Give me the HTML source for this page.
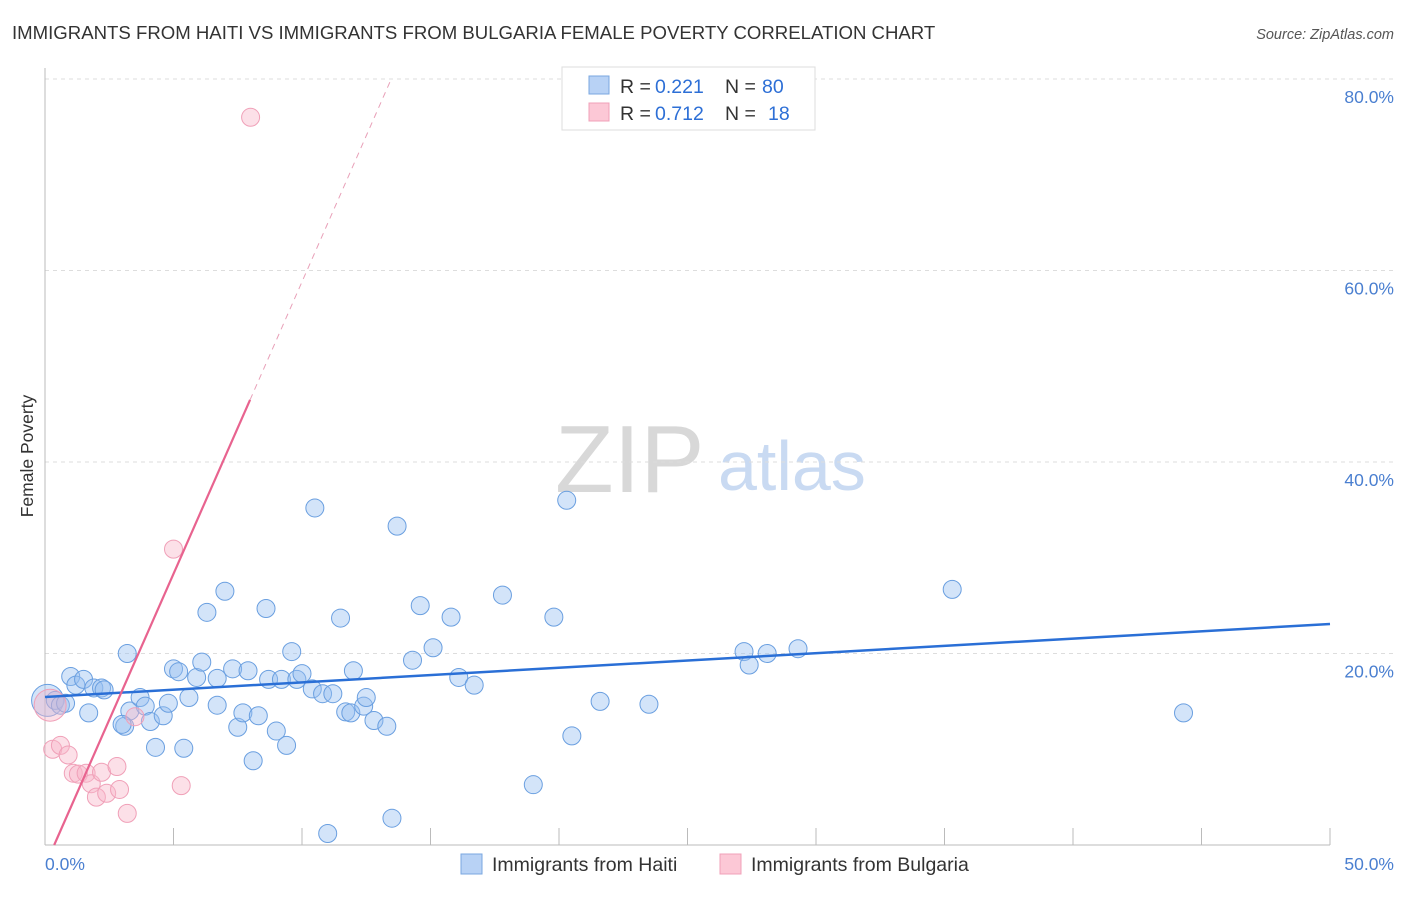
<!DOCTYPE html>
<html><head><meta charset="utf-8"><style>
body{margin:0;background:#fff;font-family:"Liberation Sans",sans-serif}
svg text{font-family:"Liberation Sans",sans-serif}
</style></head><body>
<svg width="1406" height="892">
<text x="12" y="39" font-size="18.6" fill="#333">IMMIGRANTS FROM HAITI VS IMMIGRANTS FROM BULGARIA FEMALE POVERTY CORRELATION CHART</text>
<text x="1394" y="39" font-size="14.5" fill="#555" font-style="italic" text-anchor="end">Source: ZipAtlas.com</text>
<text x="555" y="492" font-size="96" fill="#d8d8d8" font-family="Liberation Serif,serif">ZIP</text>
<text x="718" y="490" font-size="70" fill="#c9daf2">atlas</text>
<g id="grid"></g>
<line x1="45" y1="68" x2="45" y2="845" stroke="#bbb"/>
<line x1="45" y1="845" x2="1330" y2="845" stroke="#bbb"/>
<g id="ticks"></g>
<text transform="translate(33,456) rotate(-90)" font-size="17.5" fill="#333" text-anchor="middle">Female Poverty</text>
<text x="45" y="870" font-size="17.5" fill="#4a7fd0">0.0%</text>
<text x="1394" y="870" font-size="17.5" fill="#4a7fd0" text-anchor="end">50.0%</text>
<g id="pts"></g>
<g id="lines"></g>
<g>
<rect x="562" y="67" width="253" height="63" fill="#fff" stroke="#ddd"/>
<rect x="589" y="76" width="20" height="18" fill="#b8d2f5" stroke="#7aa7e0"/>
<rect x="589" y="103" width="20" height="18" fill="#fcc8d6" stroke="#f0a0b8"/>
<text x="620" y="93" font-size="19.5" fill="#333">R =</text>
<text x="655" y="93" font-size="19.5" fill="#2d6fd6">0.221</text>
<text x="725" y="93" font-size="19.5" fill="#333">N =</text>
<text x="762" y="93" font-size="19.5" fill="#2d6fd6">80</text>
<text x="620" y="120" font-size="19.5" fill="#333">R =</text>
<text x="655" y="120" font-size="19.5" fill="#2d6fd6">0.712</text>
<text x="725" y="120" font-size="19.5" fill="#333">N =</text>
<text x="768" y="120" font-size="19.5" fill="#2d6fd6">18</text>
</g>
<g>
<rect x="461" y="854" width="21" height="20" fill="#b8d2f5" stroke="#7aa7e0"/>
<text x="492" y="871" font-size="19.5" fill="#333">Immigrants from Haiti</text>
<rect x="720" y="854" width="21" height="20" fill="#fcc8d6" stroke="#f0a0b8"/>
<text x="751" y="871" font-size="19.5" fill="#333">Immigrants from Bulgaria</text>
</g>
</svg>
<script>
const yTicks=[20,40,60,80];
const xTicks=[5,10,15,20,25,30,35,40,45,50];
const haitiX=[0.1,0.4,0.6,0.8,1.0,1.2,1.5,1.7,1.9,2.2,2.3,3.1,3.3,3.0,3.2,3.7,3.9,4.1,4.3,4.6,4.8,5.0,5.2,5.4,5.6,5.9,6.1,6.3,6.7,6.7,7.0,7.3,7.5,7.7,7.9,8.1,8.3,8.6,8.7,9.0,9.2,9.4,9.6,9.8,10.0,10.4,10.5,10.8,11.0,11.2,11.5,11.7,11.9,12.0,12.4,12.5,12.8,13.3,13.5,13.7,14.3,14.6,15.1,15.8,16.1,16.7,17.8,19.0,19.8,20.3,20.5,21.6,23.5,27.2,27.4,28.1,29.3,35.3,44.3];
const haitiY=[15.1,15.1,14.6,14.8,17.6,16.7,17.3,13.8,16.4,16.4,16.2,12.4,14.0,12.6,20.0,15.4,14.5,12.9,10.2,13.5,14.8,18.4,18.1,10.1,15.4,17.5,19.1,24.3,14.6,17.4,26.5,18.4,12.3,13.8,18.2,8.8,13.5,24.7,17.3,11.9,17.3,10.4,20.2,17.3,17.9,16.3,35.2,15.8,1.2,15.8,23.7,13.9,13.8,18.2,14.5,15.4,13.0,12.4,2.8,33.3,19.3,25.0,20.6,23.8,17.5,16.7,26.1,6.3,23.8,36.0,11.4,15.0,14.7,20.2,18.8,20.0,20.5,26.7,13.8];
const bulgX=[0.2,0.3,0.6,0.9,1.1,1.3,1.6,1.8,2.0,2.2,2.4,2.8,2.9,3.2,3.5,5.0,5.3,8.0];
const bulgY=[14.6,10.0,10.4,9.4,7.5,7.4,7.5,6.4,5.0,7.6,5.4,8.2,5.8,3.3,13.4,30.9,6.2,76.0];
const haitiLine=[15.46,23.08];
const bulgSlope=6.1, bulgIntercept=-2.18;
const X=v=>45+v*25.7, Y=v=>845-v*9.575;
const NS="http://www.w3.org/2000/svg";
function mk(tag,attrs,parent){const e=document.createElementNS(NS,tag);for(const k in attrs)e.setAttribute(k,attrs[k]);document.getElementById(parent).appendChild(e);return e;}
yTicks.forEach(t=>{
 const l=mk('line',{x1:45,x2:1394,y1:Y(t),y2:Y(t),stroke:'#ddd','stroke-dasharray':'4,4'},'grid');
 
 
 const tx=mk('text',{x:1394,y:Y(t)+24,'font-size':17.5,fill:'#4a7fd0','text-anchor':'end'},'grid');
 tx.textContent=t.toFixed(1)+'%';
 
 
});
xTicks.forEach(t=>{
 const l=mk('line',{x1:X(t),x2:X(t),y1:828,y2:845,stroke:'#bbb'},'ticks');
 
 
});
haitiX.forEach((x,i)=>{
 const c=mk('circle',{cx:X(x),cy:Y(haitiY[i]),r:i==0?16:9,fill:'rgba(150,190,240,0.42)',stroke:'#6a9fe0','stroke-width':1},'pts');
 
 
});
bulgX.forEach((x,i)=>{
 const c=mk('circle',{cx:X(x),cy:Y(bulgY[i]),r:i==0?16:9,fill:'rgba(248,180,200,0.42)',stroke:'#f0a0b8','stroke-width':1},'pts');
 
 
});
const hl=mk('line',{x1:X(0),y1:Y(haitiLine[0]),x2:X(50),y2:Y(haitiLine[1]),stroke:'#2a6fd6','stroke-width':2.5},'lines');


const bx0=(0-bulgIntercept)/bulgSlope, bx1=7.98, bx2=(80-bulgIntercept)/bulgSlope;
const bl=mk('line',{x1:X(bx0),y1:Y(0),x2:X(bx1),y2:Y(bulgSlope*bx1+bulgIntercept),stroke:'#e8638f','stroke-width':2.2},'lines');


const bd=mk('line',{x1:X(bx1),y1:Y(bulgSlope*bx1+bulgIntercept),x2:X(bx2),y2:Y(80),stroke:'#e8a0b8','stroke-width':1,'stroke-dasharray':'6,5'},'lines');


</script>
</body></html>
